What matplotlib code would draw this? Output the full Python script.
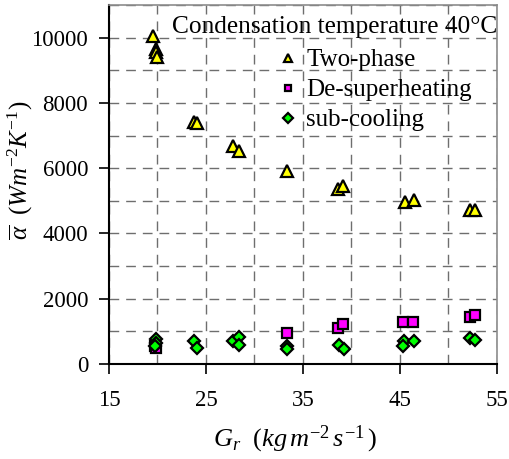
import matplotlib
matplotlib.use("Agg")
import matplotlib.pyplot as plt
from matplotlib.ticker import MultipleLocator

plt.rcParams['font.family'] = ['Liberation Serif', 'DejaVu Serif']
plt.rcParams['mathtext.fontset'] = 'custom'
plt.rcParams['mathtext.rm'] = 'Liberation Serif'
plt.rcParams['mathtext.it'] = 'Liberation Serif:italic'

# mass flux G_r (kg m-2 s-1) and mean heat transfer coefficient (W m-2 K-1)
g_two_phase = [19.5, 19.8, 19.8, 19.9, 23.8, 24.1, 27.8, 28.4, 33.4,
               38.6, 39.1, 45.5, 46.4, 52.2, 52.75]
a_two_phase = [10050, 9650, 9550, 9420, 7430, 7380, 6680, 6530, 5900,
               5360, 5440, 4960, 5020, 4710, 4730]

g_desuper = [19.7, 19.8, 33.3, 38.6, 39.1, 45.3, 46.3, 52.2, 52.7]
a_desuper = [560, 480, 960, 1100, 1230, 1300, 1300, 1430, 1500]

g_subcool = [19.8, 19.8, 19.7, 23.8, 24.05, 27.75, 28.4, 28.4, 33.4, 33.4,
             38.75, 39.2, 45.4, 45.3, 46.4, 52.2, 52.75]
a_subcool = [770, 640, 560, 690, 500, 690, 820, 580, 560, 460,
             580, 460, 710, 560, 690, 790, 740]

fig = plt.figure(figsize=(5.10, 4.59), dpi=100)
ax = fig.add_axes([0.2137, 0.207, 0.7608, 0.782])

ax.plot(g_two_phase, a_two_phase, linestyle='none', marker='^', markersize=8,
        markerfacecolor='#ffff00', markeredgecolor='black', markeredgewidth=1.6,
        label='Two-phase', zorder=3)
ax.plot(g_desuper, a_desuper, linestyle='none', marker='s', markersize=6.5,
        markerfacecolor='#ff00ff', markeredgecolor='black', markeredgewidth=1.6,
        label='De-superheating', zorder=3)
ax.plot(g_subcool, a_subcool, linestyle='none', marker='D', markersize=6.5,
        markerfacecolor='#00ff00', markeredgecolor='black', markeredgewidth=1.6,
        label='sub-cooling', zorder=3)

ax.set_xlim(15, 55)
ax.set_ylim(0, 11000)
ax.set_xticks([15, 25, 35, 45, 55])
ax.set_yticks([0, 2000, 4000, 6000, 8000, 10000])
ax.xaxis.set_minor_locator(MultipleLocator(5))
ax.yaxis.set_minor_locator(MultipleLocator(1000))

ax.grid(which='both', color='#6e6e6e', linestyle=(0, (7, 5)), linewidth=1.0)
ax.set_axisbelow(True)

ax.tick_params(axis='both', which='major', direction='out', length=7,
               width=1.2, color='black', labelsize=16.5)
ax.tick_params(axis='y', which='major', pad=8)
ax.tick_params(axis='x', which='major', pad=12)
ax.tick_params(which='minor', length=0)

for side in ('left', 'bottom'):
    ax.spines[side].set_color('black')
    ax.spines[side].set_linewidth(1.5)
for side in ('top', 'right'):
    ax.spines[side].set_color('#8c8c8c')
    ax.spines[side].set_linewidth(1.2)

ax.set_xlabel(r'$G_r\ \ (kg\,m^{-2}\,s^{-1}\,)$', fontsize=19)
ax.set_ylabel(r'$\overline{\alpha}\ \ (Wm^{-2}K^{-1})$', fontsize=18)
ax.yaxis.set_label_coords(-0.19, 0.54)
ax.xaxis.set_label_coords(0.48, -0.165)

ax.text(1.0, 0.922, 'Condensation temperature 40\u00b0C', transform=ax.transAxes,
        ha='right', va='baseline', fontsize=18.3)
ax.legend(loc='upper left', bbox_to_anchor=(0.428, 0.878), frameon=False,
          fontsize=18, handlelength=1.0, handletextpad=0.25, labelspacing=0.3,
          borderpad=0.0, borderaxespad=0.0, markerscale=0.75)

fig.savefig('out.png', dpi=100, facecolor='white')
